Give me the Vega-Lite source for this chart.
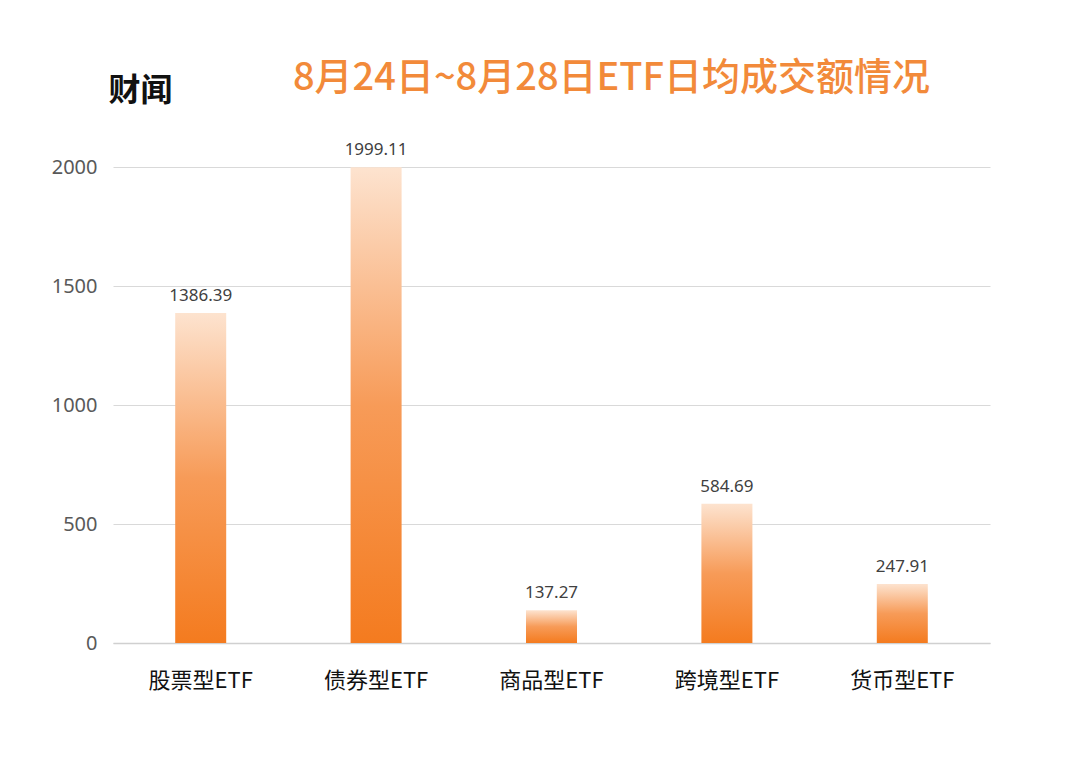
{
  "$schema": "https://vega.github.io/schema/vega-lite/v6.json",
  "autosize": "none",
  "width": 877,
  "height": 476,
  "padding": {"left": 113, "top": 167, "right": 102, "bottom": 119},
  "background": "white",
  "title": {
    "text": "8月24日~8月28日ETF日均成交额情况",
    "font": "Noto Sans CJK SC",
    "fontSize": 38,
    "fontWeight": 500,
    "color": "#f28a3a",
    "anchor": "middle",
    "frame": "group",
    "dx": 60,
    "offset": -24
  },
  "data": {
    "values": [
      {"type": "股票型ETF", "amount": 1386.39},
      {"type": "债券型ETF", "amount": 1999.11},
      {"type": "商品型ETF", "amount": 137.27},
      {"type": "跨境型ETF", "amount": 584.69},
      {"type": "货币型ETF", "amount": 247.91}
    ]
  },
  "encoding": {
    "x": {
      "field": "type",
      "type": "nominal",
      "sort": null,
      "scale": {"paddingInner": 0, "paddingOuter": 0},
      "axis": {
        "title": null,
        "labelAngle": 0,
        "labelFont": "Noto Sans CJK SC",
        "labelFontSize": 22,
        "labelColor": "#111111",
        "labelPadding": 27,
        "ticks": false,
        "domainColor": "#d0d0d0",
        "domainWidth": 1.5,
        "grid": false
      }
    },
    "y": {
      "field": "amount",
      "type": "quantitative",
      "scale": {"domain": [0, 2000]},
      "axis": {
        "values": [0, 500, 1000, 1500, 2000],
        "format": "d",
        "title": "财闻",
        "titleAngle": 0,
        "titleX": 27,
        "titleY": -77,
        "titleAlign": "center",
        "titleBaseline": "middle",
        "titleFont": "Noto Sans CJK SC",
        "titleFontSize": 32,
        "titleFontWeight": "bold",
        "titleColor": "#111111",
        "labelFont": "Noto Sans",
        "labelFontSize": 20,
        "labelColor": "#595959",
        "labelPadding": 16,
        "ticks": false,
        "domain": false,
        "gridColor": "#d9d9d9",
        "gridWidth": 1
      }
    }
  },
  "layer": [
    {
      "mark": {
        "type": "bar",
        "size": 51,
        "color": {
          "gradient": "linear",
          "x1": 0, "y1": 0, "x2": 0, "y2": 1,
          "stops": [
            {"offset": 0, "color": "#fde3cf"},
            {"offset": 0.5, "color": "#f79b58"},
            {"offset": 1, "color": "#f47b1f"}
          ]
        }
      }
    },
    {
      "mark": {
        "type": "text",
        "dy": -8,
        "font": "Noto Sans",
        "fontSize": 17,
        "color": "#404040",
        "baseline": "bottom"
      },
      "encoding": {
        "text": {"field": "amount", "type": "quantitative", "format": ".2f"}
      }
    }
  ],
  "config": {"view": {"stroke": null}}
}
